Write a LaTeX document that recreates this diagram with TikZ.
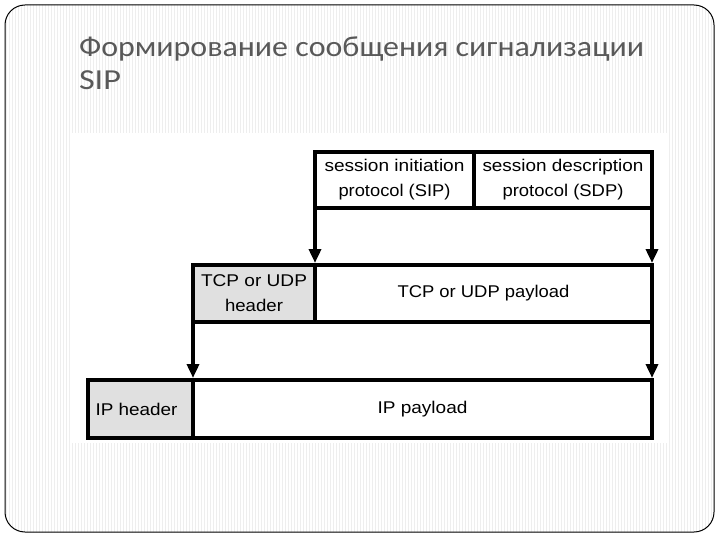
\documentclass[tikz,border=0pt]{standalone}
\usepackage{fontspec}
\setmainfont{Liberation Sans}
\newfontfamily\titlefont{Carlito}
\usetikzlibrary{arrows.meta}
\definecolor{titlegray}{HTML}{595959}
\definecolor{hdrgray}{HTML}{E0E0E0}
\definecolor{stripe}{HTML}{EEEEEE}
\newcommand{\fitw}[2]{\resizebox{#1pt}{\height}{#2}}
\tikzset{
  pbox/.style={draw=black, line width=3.5pt, rectangle, inner sep=0pt, outer sep=0pt,
    anchor=north west, font=\fontsize{17}{25}\selectfont, align=center},
  hdr/.style={pbox, fill=hdrgray},
  arr/.style={line width=3.5pt, -{Triangle[length=14pt,width=12pt]}, shorten >=2pt},
  titletext/.style={anchor=base west, inner sep=0pt, outer sep=0pt, text=titlegray,
    font=\titlefont\fontsize{29}{34}\selectfont}
}
\begin{document}
\begin{tikzpicture}[x=1pt,y=-1pt]
\useasboundingbox (0,0) rectangle (720,540);
\fill[white] (0,0) rectangle (720,540);
\begin{scope}
  \clip[rounded corners=20pt] (5,5) rectangle (714,532);
  \foreach \x in {6,9,...,714} \draw[stripe, line width=1pt] (\x,0) -- (\x,540);
\end{scope}
\draw[line width=1pt, rounded corners=20pt] (5,5) rectangle (714,532);
\fill[white] (72,133) rectangle (668,443);

\node[titletext] (title1) at (79,57) {\fitw{565}{Формирование сообщения сигнализации}};
\node[titletext] (title2) at (79,90) {\fitw{42}{SIP}};

\node[pbox, minimum width=159pt, minimum height=56pt] (sip) at (315,152)
  {\fitw{140}{session initiation}\\\fitw{112}{protocol (SIP)}};
\node[pbox, minimum width=178pt, minimum height=56pt] (sdp) at (474,152)
  {\fitw{161}{session description}\\\fitw{121}{protocol (SDP)}};
\node[hdr, minimum width=122pt, minimum height=57pt] (tcph) at (193,265)
  {\fitw{106}{TCP or UDP}\\\fitw{58}{header}};
\node[pbox, minimum width=337pt, minimum height=57pt] (tcpp) at (315,265)
  {\fitw{172}{TCP or UDP payload}};
\node[hdr, minimum width=105pt, minimum height=58pt] (iph) at (88,380)
  {\fitw{82}{IP header}\hspace*{8pt}};
\node[pbox, minimum width=459pt, minimum height=58pt] (ipp) at (193,380)
  {\fitw{90}{IP payload}};

\draw[arr] (sip.south west) -- (tcpp.north west);
\draw[arr] (sdp.south east) -- (tcpp.north east);
\draw[arr] (tcph.south west) -- (iph.north east);
\draw[arr] (tcpp.south east) -- (ipp.north east);
\end{tikzpicture}
\end{document}
